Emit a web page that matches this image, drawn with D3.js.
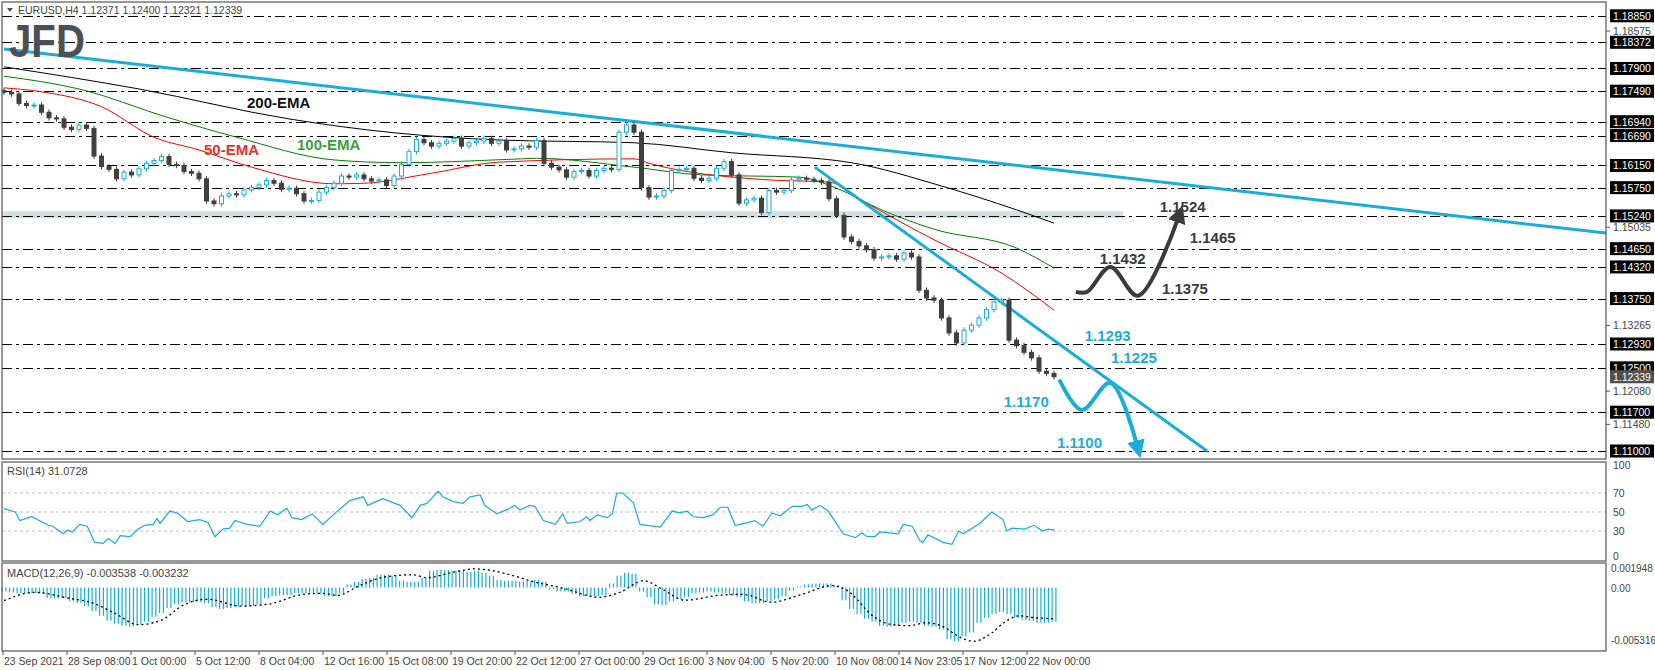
<!DOCTYPE html>
<html>
<head>
<meta charset="utf-8">
<script src="https://cdn.jsdelivr.net/npm/d3@7"></script>
<style>
  body { margin: 0; background: #fff; }
  text { font-family: "Liberation Sans", "Noto Sans", sans-serif; }
</style>
</head>
<body>
<svg id="chart" width="1655" height="670"></svg>
<script>
// closes, one per 8 hours
const closes = [
  1.1747, 1.1744, 1.1727, 1.1723, 1.1724, 1.1711, 1.1701, 1.1699, 1.1684, 1.1680,
  1.1688, 1.1682, 1.1632, 1.1613, 1.1608, 1.1591, 1.1603, 1.1598, 1.1609, 1.1619,
  1.1624, 1.1631, 1.1617, 1.1615, 1.1604, 1.1601, 1.1591, 1.1551, 1.1546, 1.1560,
  1.1564, 1.1562, 1.1571, 1.1575, 1.1580, 1.1588, 1.1583, 1.1572, 1.1574, 1.1564,
  1.1551, 1.1552, 1.1567, 1.1575, 1.1583, 1.1596, 1.1594, 1.1598, 1.1591, 1.1587,
  1.1589, 1.1579, 1.1596, 1.1617, 1.1640, 1.1662, 1.1656, 1.1650, 1.1655, 1.1659,
  1.1664, 1.1650, 1.1656, 1.1659, 1.1664, 1.1655, 1.1659, 1.1643, 1.1645, 1.1650,
  1.1648, 1.1660, 1.1619, 1.1612, 1.1607, 1.1594, 1.1604, 1.1606, 1.1596, 1.1606,
  1.1610, 1.1608, 1.1675, 1.1688, 1.1675, 1.1575, 1.1558, 1.1560, 1.1570, 1.1606,
  1.1608, 1.1610, 1.1592, 1.1588, 1.1592, 1.1610, 1.1622, 1.1598, 1.1547, 1.1553,
  1.1556, 1.1530, 1.1570, 1.1567, 1.1570, 1.1589, 1.1592, 1.1590, 1.1588, 1.1585,
  1.1555, 1.1525, 1.1486, 1.1478, 1.1470, 1.1463, 1.1448, 1.1450, 1.1452, 1.1446,
  1.1457, 1.1450, 1.1390, 1.1376, 1.1372, 1.1340, 1.1313, 1.1295, 1.1318, 1.1327,
  1.1340, 1.1355, 1.1369, 1.1372, 1.1300, 1.1290, 1.1278, 1.1268, 1.1244, 1.1240,
  1.1234
];
const firstOpen = 1.1750;

// moving averages [bar, price]
const ema200 = [[0, 1.1793], [18, 1.1753], [38, 1.1699], [52, 1.1674], [66, 1.1661], [84, 1.1656],
  [97, 1.1638], [113, 1.1620], [125, 1.1578], [135, 1.1535], [140, 1.1511]];
const ema100 = [[0, 1.1776], [10, 1.1753], [22, 1.1701], [31, 1.1666], [44, 1.1625], [53, 1.1620],
  [69, 1.1627], [71, 1.1628], [84, 1.1612], [93, 1.1598], [106, 1.1594], [111, 1.1574],
  [117, 1.1535], [124, 1.1500], [135, 1.1466], [140, 1.1430]];
const ema50 = [[0, 1.1755], [5, 1.1748], [13, 1.1721], [20, 1.1666], [26, 1.1643], [33, 1.1612],
  [44, 1.1582], [48, 1.1583], [57, 1.1601], [66, 1.1621], [84, 1.1627], [86, 1.1619],
  [102, 1.1589], [110, 1.1585], [115, 1.1547], [124, 1.1481], [133, 1.1421], [140, 1.1354]];

// levels drawn on the chart
const levels = [1.1885, 1.18372, 1.179, 1.1749, 1.1694, 1.1669, 1.1615, 1.1575, 1.1524,
  1.1465, 1.1432, 1.1375, 1.1293, 1.125, 1.117, 1.11];
const axisTicks = [1.18575, 1.17985, 1.1739, 1.16795, 1.16205, 1.1562, 1.15035, 1.14425,
  1.1385, 1.13265, 1.12665, 1.1208, 1.1148, 1.10895];
const lastPrice = 1.12339;

const longTrend = [[0, 1.1825], [213.6, 1.1493]];
const shortTrend = [[108.1, 1.1612], [160.4, 1.1100]];
const zoneBand = [1.1520, 1.15325];

const rsi = [[0,53.5],[1.5,50],[2.1,41],[3.7,45],[5.9,36],[6.5,35],[7.9,27],[8.5,31],[9.1,29],[10.1,37],
  [11.1,35],[12.1,18],[13.2,17],[13.9,22],[14.8,17],[15.5,25],[16.8,24],[17.9,32],[18.8,36],[19.9,37],
  [20.4,43],[20.8,38],[22.1,51],[23.1,49],[24.5,40],[26.1,42],[27.2,39],[28.1,24],[29.2,32],[30.1,33],
  [30.8,41],[32.4,37],[34.1,35],[35.5,51],[36.5,47],[37.7,54],[38.4,44],[39.7,42],[41.1,48],[42.5,37],
  [43.9,47],[46.1,62],[47.9,66],[48.5,57],[50.5,64],[52.8,57],[54.4,44],[55.5,57],[56.4,59],[57.9,72],
  [58.5,66],[59.9,61],[61.2,59],[62.1,66],[63.5,68],[64.1,57],[65.7,48],[67.2,53],[68.1,57],[68.8,52],
  [70.1,57],[70.8,56],[71.9,41],[73.5,37],[74.5,48],[75.1,38],[76.8,40],[77.7,45],[78.1,41],[79.1,47],
  [80.4,44],[81.1,48],[81.7,70],[82.5,70],[83.9,60],[84.8,37],[87.5,34],[89.1,51],[90.1,49],[91.1,51],
  [91.9,45],[93.2,44],[94.5,47],[95.5,55],[96.5,55],[97.5,36],[98.8,38],[100.1,41],[101.2,35],[102.4,49],
  [103.5,46],[105.1,56],[106.4,56],[107.1,58],[107.7,52],[108.8,57],[109.9,51],[111.9,27],[113.5,23],[114.4,28],
  [115.1,24],[116.1,24],[116.8,29],[119.2,27],[119.9,37],[121.1,35],[122.1,20],[122.5,18],[123.2,26],[125.2,18],
  [126.4,16],[127.3,30],[127.9,27],[130.1,38],[131.7,50],[133.2,42],[133.7,30],[134.4,33],[136.1,32],[137.3,36],
  [138.5,30],[139.2,32],[140.1,31]];

const macdHist = [
  -0.0004,-0.0005,-0.0006,-0.0006,-0.0006,-0.0006,-0.0011,-0.0011,-0.0011,-0.0014,
  -0.0016,-0.0019,-0.0024,-0.0029,-0.0034,-0.0037,-0.0039,-0.0040,-0.0038,-0.0035,
  -0.0030,-0.0026,-0.0021,-0.0017,-0.0015,-0.0015,-0.0015,-0.0016,-0.0020,-0.0022,
  -0.0021,-0.0020,-0.0019,-0.0019,-0.0017,-0.0011,-0.0009,-0.0008,-0.0008,-0.0006,
  -0.0006,-0.0006,-0.0007,-0.0009,-0.0009,-0.0006,0.0003,0.0006,0.0009,0.0010,
  0.0013,0.0013,0.0012,0.0007,0.0006,0.0006,0.0010,0.0017,0.0018,0.0018,
  0.0017,0.0017,0.0016,0.0017,0.0015,0.0012,0.0008,0.0007,0.0007,0.0006,
  0.0007,0.0008,0.0006,-0.0002,-0.0004,-0.0004,-0.0007,-0.0009,-0.0009,-0.0009,
  -0.0008,0.0004,0.0012,0.0015,0.0014,-0.0004,-0.0010,-0.0017,-0.0018,-0.0014,
  -0.0012,-0.0010,-0.0006,-0.0005,-0.0004,-0.0005,-0.0006,-0.0008,-0.0010,-0.0014,
  -0.0016,-0.0016,-0.0014,-0.0012,-0.0009,-0.0003,0.0001,0.0003,0.0004,0.0004,
  0.0004,0.0002,-0.0013,-0.0022,-0.0027,-0.0032,-0.0035,-0.0039,-0.0040,-0.0039,
  -0.0036,-0.0035,-0.0036,-0.0039,-0.0040,-0.0043,-0.0053,-0.0055,-0.0050,-0.0046,
  -0.0036,-0.0031,-0.0027,-0.0025,-0.0027,-0.0031,-0.0033,-0.0034,-0.0036,-0.0036,
  -0.0035
];
const macdSignal = [[0,-0.00135],[4,-0.0005],[8.7,-0.0011],[11.9,-0.0016],[14.7,-0.0026],[17.9,-0.0038],
  [21.1,-0.0033],[23.9,-0.0018],[27.1,-0.0012],[31.6,-0.0019],[35.3,-0.0017],[39.9,-0.0007],[42.7,-0.0006],
  [44.4,-0.0008],[47.7,0.0003],[50.9,0.0011],[54.5,0.0013],[56.4,0.0010],[60.1,0.0016],[62.8,0.0019],
  [67.5,0.0013],[70.1,0.0007],[74.7,-0.0001],[79.3,-0.0010],[82.1,-0.0005],[85.3,0.0007],[87.6,-0.0001],
  [90.8,-0.0013],[95.3,-0.0008],[98.5,-0.0007],[102.3,-0.0015],[106.4,-0.0007],[110.5,0.0002],[112.4,-0.0003],
  [116,-0.0030],[118.4,-0.0038],[120.7,-0.0039],[122.9,-0.0036],[125.2,-0.0040],[127.5,-0.0051],[129.3,-0.0055],
  [131.6,-0.0047],[133.5,-0.0035],[135.3,-0.0029],[137.6,-0.0031],[140.1,-0.0032]];

const dateLabels = ["23 Sep 2021", "28 Sep 08:00", "1 Oct 00:00", "5 Oct 12:00", "8 Oct 04:00",
  "12 Oct 16:00", "15 Oct 08:00", "19 Oct 20:00", "22 Oct 12:00", "27 Oct 00:00", "29 Oct 16:00",
  "3 Nov 04:00", "5 Nov 20:00", "10 Nov 08:00", "14 Nov 23:05", "17 Nov 12:00", "22 Nov 00:00"];

// scenario paths [bar, price]
const bullPath = [[142.9, 1.1387], [144.4, 1.1387], [147.5, 1.1432], [151.2, 1.1380], [156.6, 1.1522]];
const bearPath = [[140.7, 1.1229], [143.7, 1.1174], [147.5, 1.1223], [151.1, 1.1109]];
const bullLabels = [["1.1524", 154.1, 1.15311], ["1.1465", 158.1, 1.14752], ["1.1432", 146.1, 1.14373], ["1.1375", 154.4, 1.13832]];
const bearLabels = [["1.1293", 144.1, 1.12984], ["1.1225", 147.6, 1.12587], ["1.1170", 133.3, 1.11793], ["1.1100", 140.4, 1.11054]];

// ---------- layout ----------
const L = 2, R = 1606;
const main = { top: 2, bottom: 459 };
const rsiP = { top: 462, bottom: 561 };
const macdP = { top: 563, bottom: 651 };
const CYAN = "#19aed8", DARK = "#404040";
const labelStep = 64 / 7.5;

const svg = d3.select("#chart");
const x = d3.scaleLinear().domain([0, 140]).range([4, 1054]);
const y = d3.scaleLinear().domain([1.11, 1.1885]).range([451, 15.8]);
const yR = d3.scaleLinear().domain([0, 100]).range([559.5, 464.5]);
const yM = d3.scaleLinear().domain([0, -0.005316]).range([587.5, 639.5]);

const defs = svg.append("defs");
defs.append("clipPath").attr("id", "clipMain").append("rect")
  .attr("x", L).attr("y", main.top).attr("width", R - L).attr("height", main.bottom - main.top);
[["arrBull", "#3b3b3b"], ["arrBear", CYAN]].forEach(([id, c]) => {
  defs.append("marker").attr("id", id).attr("viewBox", "0 0 10 10").attr("refX", 3).attr("refY", 5)
    .attr("markerWidth", 4.5).attr("markerHeight", 4.5).attr("orient", "auto")
    .append("path").attr("d", "M0,0 L10,5 L0,10 z").attr("fill", c);
});

const gMain = svg.append("g").attr("clip-path", "url(#clipMain)");

// support zone band
gMain.append("rect").attr("x", L).attr("width", x(149.2) - L)
  .attr("y", y(zoneBand[1])).attr("height", y(zoneBand[0]) - y(zoneBand[1]))
  .attr("fill", "#d3dfe3");

// level lines
gMain.selectAll(".lvl").data(levels).enter().append("line")
  .attr("x1", L).attr("x2", R).attr("y1", d => Math.round(y(d)) + 0.5).attr("y2", d => Math.round(y(d)) + 0.5)
  .attr("stroke", "#000").attr("stroke-width", 1).attr("stroke-dasharray", "10,4,3,4");

// EMAs
const line = d3.line().x(d => x(d[0])).y(d => y(d[1])).curve(d3.curveMonotoneX);
[[ema200, "#000"], [ema100, "#008000"], [ema50, "#ff0000"]].forEach(([d, c]) => {
  gMain.append("path").attr("d", line(d)).attr("fill", "none").attr("stroke", c).attr("stroke-width", 1);
});

// trend lines
const straight = d3.line().x(d => x(d[0])).y(d => y(d[1]));
gMain.append("path").attr("d", straight(longTrend)).attr("stroke", CYAN).attr("stroke-width", 3).attr("fill", "none");
gMain.append("path").attr("d", straight(shortTrend)).attr("stroke", CYAN).attr("stroke-width", 3).attr("fill", "none");

// candles
const candles = closes.map((c, i) => {
  const o = i === 0 ? firstOpen : closes[i - 1];
  return { i, o, c, h: Math.max(o, c) + 0.0005, l: Math.min(o, c) - 0.0005 };
});
const cg = gMain.selectAll(".candle").data(candles).enter().append("g");
cg.append("line").attr("x1", d => x(d.i)).attr("x2", d => x(d.i))
  .attr("y1", d => y(d.h)).attr("y2", d => y(d.l))
  .attr("stroke", d => d.c >= d.o ? CYAN : DARK).attr("stroke-width", 1);
cg.append("rect").attr("x", d => x(d.i) - 2).attr("width", 4)
  .attr("y", d => y(Math.max(d.o, d.c))).attr("height", d => Math.max(1, Math.abs(y(d.o) - y(d.c))))
  .attr("fill", d => d.c >= d.o ? "#fff" : DARK)
  .attr("stroke", d => d.c >= d.o ? CYAN : DARK).attr("stroke-width", 1);

// scenarios
const curvy = d3.line().x(d => x(d[0])).y(d => y(d[1])).curve(d3.curveCatmullRom.alpha(0.5));
gMain.append("path").attr("d", curvy(bullPath)).attr("fill", "none").attr("stroke", "#3b3b3b")
  .attr("stroke-width", 4).attr("marker-end", "url(#arrBull)");
gMain.append("path").attr("d", curvy(bearPath)).attr("fill", "none").attr("stroke", CYAN)
  .attr("stroke-width", 4).attr("marker-end", "url(#arrBear)");
[[bullLabels, "#3b3b3b"], [bearLabels, CYAN]].forEach(([arr, c]) => {
  gMain.selectAll(null).data(arr).enter().append("text")
    .attr("x", d => x(d[1])).attr("y", d => y(d[2])).text(d => d[0])
    .attr("fill", c).style("font-weight", "bold").style("font-size", "15px");
});

// EMA labels
[["200-EMA", 247, 108, "#111"], ["100-EMA", 297, 150, "#3ca03c"], ["50-EMA", 204, 155, "#e8302a"]].forEach(t => {
  svg.append("text").attr("x", t[1]).attr("y", t[2]).text(t[0]).attr("fill", t[3])
    .style("font-weight", "bold").style("font-size", "15px");
});

// header + logo
svg.append("path").attr("d", "M7,8 L13,8 L10,12 z").attr("fill", "#555");
svg.append("text").attr("x", 18).attr("y", 14).text("EURUSD,H4  1.12371 1.12400 1.12321 1.12339")
  .attr("fill", "#444").style("font-size", "10.5px");
svg.append("text").attr("x", 9).attr("y", 57).text("JFD").attr("fill", "#4b5058")
  .attr("textLength", 76).attr("lengthAdjust", "spacingAndGlyphs")
  .style("font-weight", "bold").style("font-size", "46px");

// RSI panel
const gR = svg.append("g");
gR.selectAll(null).data([70, 50, 30]).enter().append("line")
  .attr("x1", L).attr("x2", R).attr("y1", d => yR(d)).attr("y2", d => yR(d))
  .attr("stroke", "#bdbdbd").attr("stroke-dasharray", "3,3");
gR.append("path").attr("d", d3.line().x(d => x(d[0])).y(d => yR(d[1]))(rsi))
  .attr("fill", "none").attr("stroke", CYAN).attr("stroke-width", 1.2);
gR.append("text").attr("x", 7).attr("y", 475).text("RSI(14) 31.0728").attr("fill", "#444").style("font-size", "11px");

// MACD panel
const gM = svg.append("g");
macdHist.forEach((v, i) => {
  [-1.9, 1.9].forEach(dx => {
    gM.append("line").attr("x1", x(i) + dx).attr("x2", x(i) + dx)
      .attr("y1", yM(0)).attr("y2", yM(v)).attr("stroke", CYAN).attr("stroke-width", 1.2);
  });
});
gM.append("path").attr("d", d3.line().x(d => x(d[0])).y(d => yM(d[1])).curve(d3.curveMonotoneX)(macdSignal))
  .attr("fill", "none").attr("stroke", "#000").attr("stroke-width", 1.3).attr("stroke-dasharray", "2,3");
gM.append("text").attr("x", 7).attr("y", 577).text("MACD(12,26,9) -0.003538 -0.003232").attr("fill", "#444").style("font-size", "11px");

// panel frames
[main, rsiP, macdP].forEach(p => {
  svg.append("rect").attr("x", L).attr("y", p.top).attr("width", R - L).attr("height", p.bottom - p.top)
    .attr("fill", "none").attr("stroke", "#555").attr("stroke-width", 1.2);
});

// price axis (plain ticks hidden under a level box are skipped)
const ax = svg.append("g").style("font-size", "10.5px");
const boxed = levels.concat([lastPrice]);
axisTicks.filter(v => boxed.every(b => Math.abs(y(b) - y(v)) > 11)).forEach(v => {
  ax.append("line").attr("x1", R).attr("x2", R + 4).attr("y1", y(v)).attr("y2", y(v)).attr("stroke", "#555");
  ax.append("text").attr("x", R + 7).attr("y", y(v) + 4).text(v.toFixed(5)).attr("fill", "#444");
});
boxed.forEach(v => {
  const isLast = v === lastPrice;
  ax.append("rect").attr("x", R + 4).attr("y", y(v) - 6.5).attr("width", 44).attr("height", 13)
    .attr("fill", isLast ? "#505050" : "#000");
  ax.append("text").attr("x", R + 7).attr("y", y(v) + 4).text(v.toFixed(5)).attr("fill", "#fff");
});

// RSI / MACD axes
[[100, yR(100) + 4], [70, yR(70) + 4], [50, yR(50) + 4], [30, yR(30) + 4], [0, yR(0)]].forEach(d => {
  ax.append("text").attr("x", R + 7).attr("y", d[1]).text(d[0]).attr("fill", "#444");
});
[[0.001948, "0.001948"], [0, "0.00"], [-0.005316, "-0.005316"]].forEach(d => {
  ax.append("text").attr("x", R + 5).attr("y", yM(d[0]) + 4).text(d[1]).attr("fill", "#444")
    .style("font-size", "10px");
});

// date axis
dateLabels.forEach((t, k) => {
  const px = x(k * labelStep) - 1;
  ax.append("line").attr("x1", px).attr("x2", px).attr("y1", macdP.bottom).attr("y2", macdP.bottom + 4).attr("stroke", "#555");
  ax.append("text").attr("x", px + 1).attr("y", 665).text(t).attr("fill", "#444").style("font-size", "10.5px");
});
</script>
</body>
</html>
